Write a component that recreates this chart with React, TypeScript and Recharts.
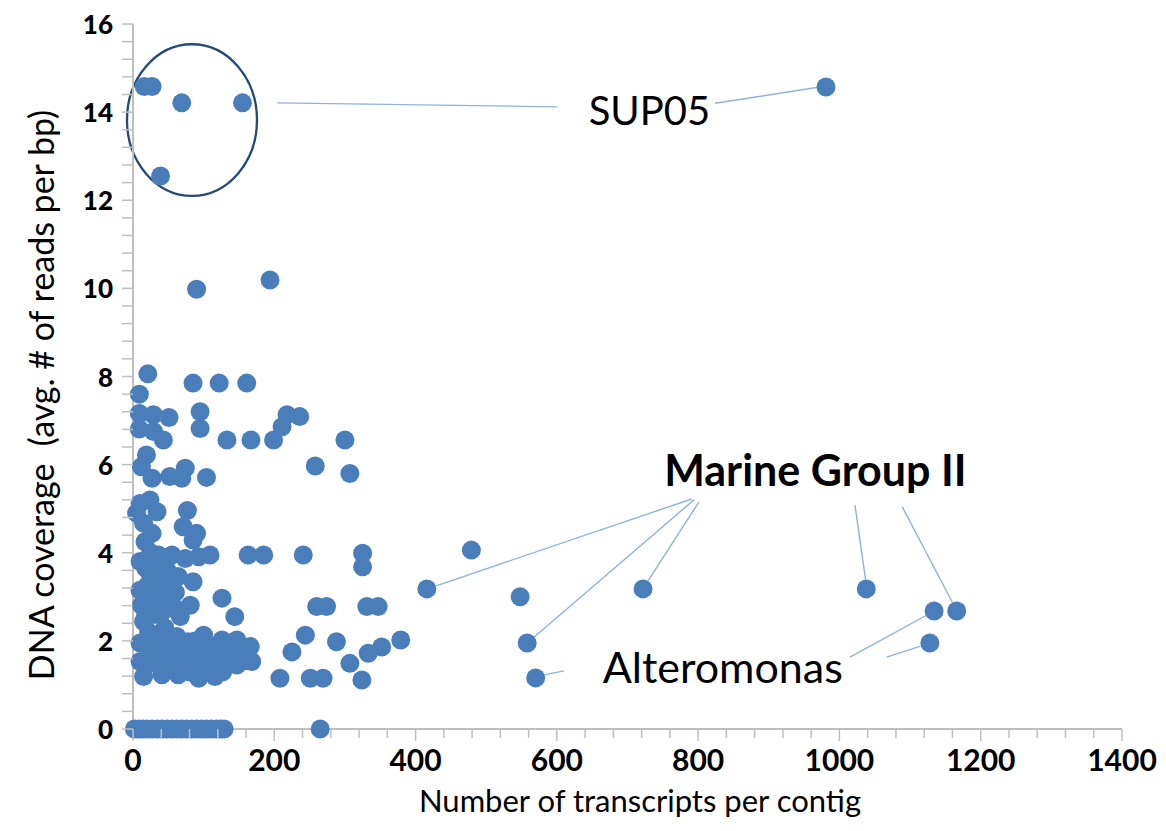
import React from "react";
import {
  ScatterChart,
  Scatter,
  XAxis,
  YAxis,
  ReferenceLine,
  ReferenceDot,
  ReferenceArea,
} from "recharts";

const BLUE = "#4A7EBB";
const LEADER = "#8FB2DC";
const AXIS = "#BFBFBF";
const FONT = "Lato, 'Open Sans', sans-serif";

// contigs highlighted inside the ellipse (plus the far SUP05 outlier)
const sup05X = [16, 27, 69, 155, 39, 981];
const sup05Y = [14.58, 14.58, 14.21, 14.21, 12.55, 14.57];

const marineX = [416, 558, 722, 1038, 1166];
const marineY = [3.18, 1.95, 3.18, 3.18, 2.68];

const alteroX = [570, 1134, 1128];
const alteroY = [1.16, 2.68, 1.95];

// contigs with no DNA coverage
const zeroX = [2, 8, 14, 20, 27, 34, 41, 48, 55, 62, 69, 76, 83, 90, 97, 104, 111, 118, 124, 129, 265];

const otherX = [
  90, 194, 21, 85, 122, 161, 9, 95, 95, 133, 167, 199, 211, 218, 236, 300, 258, 307,
  9, 29, 51, 9, 29, 43, 19, 12, 27, 52, 74, 69, 104,
  10, 24, 34, 5, 15, 27, 17, 77, 71, 90, 85,
  10, 36, 55, 74, 93, 109, 163, 185, 241, 325, 325, 479,
  85, 24, 48, 64, 10, 34, 12, 43, 60, 81, 67, 126, 144, 15,
  260, 274, 331, 347, 548,
  10, 34, 57, 78, 100, 121, 147, 166, 126, 147, 244, 288, 379, 352,
  10, 31, 55, 74, 95, 116, 147, 168, 147, 225, 333, 307,
  15, 41, 64, 93, 116, 208, 251, 269, 324,
  20, 30, 45, 22, 50, 40, 25, 62, 70, 85, 105, 112, 130, 132, 155, 160,
  40, 25, 55, 80, 105, 127, 18, 35, 60, 28, 45, 18, 100, 88, 135,
];
const otherY = [
  9.98, 10.19, 8.06, 7.85, 7.85, 7.85, 7.6, 7.2, 6.82, 6.56, 6.56, 6.56, 6.86, 7.13, 7.09, 6.56, 5.97, 5.8,
  7.16, 7.13, 7.07, 6.81, 6.75, 6.56, 6.22, 5.95, 5.69, 5.73, 5.92, 5.69, 5.71,
  5.12, 5.2, 4.93, 4.9, 4.67, 4.44, 4.25, 4.96, 4.59, 4.44, 4.29,
  3.8, 3.95, 3.95, 3.87, 3.91, 3.95, 3.95, 3.95, 3.95, 3.99, 3.68, 4.06,
  3.34, 3.53, 3.61, 3.46, 3.15, 3.08, 2.81, 2.93, 2.74, 2.81, 2.55, 2.97, 2.55, 2.44,
  2.78, 2.78, 2.78, 2.78, 3.0,
  1.95, 2.02, 1.95, 1.98, 2.13, 1.91, 1.95, 1.87, 2.02, 2.02, 2.13, 1.98, 2.02, 1.86,
  1.53, 1.49, 1.57, 1.45, 1.41, 1.53, 1.49, 1.53, 1.45, 1.75, 1.72, 1.49,
  1.19, 1.23, 1.23, 1.15, 1.19, 1.15, 1.15, 1.15, 1.11,
  3.25, 2.6, 2.3, 2.2, 3.2, 3.8, 4.0, 2.1, 1.8, 1.7, 1.8, 1.6, 1.7, 1.5, 1.7, 1.55,
  1.7, 1.75, 1.35, 1.3, 1.3, 1.3, 3.65, 3.4, 3.1, 2.95, 2.7, 2.6, 1.55, 2.0, 1.9,
];

const xLabels = [0, 200, 400, 600, 800, 1000, 1200, 1400];
const yLabels = [0, 2, 4, 6, 8, 10, 12, 14, 16];

// minor ticks: five per labelled step
const xTicks = Array.from({ length: 36 }, (_, i) => i * 40);
const yTicks = Array.from({ length: 41 }, (_, i) => Math.round(i * 4) / 10);

const toPoints = (xs: number[], ys: number[]) => xs.map((x, i) => ({ x, y: ys[i] }));

const points = [
  ...toPoints(otherX, otherY),
  ...toPoints(zeroX, zeroX.map(() => 0)),
  ...toPoints(sup05X, sup05Y),
  ...toPoints(marineX, marineY),
  ...toPoints(alteroX, alteroY),
];

// leader lines from the labels to the contigs they name
const leaders = [
  [[204, 14.21], [600, 14.12]],
  [[824, 14.2], [968, 14.56]],
  [[791, 5.22], [429, 3.25]],
  [[794, 5.2], [568, 2.09]],
  [[801, 5.15], [729, 3.36]],
  [[1022, 5.08], [1037, 3.39]],
  [[1089, 5.04], [1160, 2.87]],
  [[570, 1.19], [610, 1.32]],
  [[1015, 1.63], [1122, 2.57]],
  [[1067, 1.63], [1115, 1.88]],
];

const XTick = (props: any) => {
  const { x, y, payload } = props;
  const major = xLabels.includes(payload.value);
  return (
    <g>
      <line x1={x} x2={x} y1={y} y2={y + (major ? 12 : 9)} stroke={AXIS} strokeWidth={1.5} />
      {major && (
        <text x={x} y={y + 42} textAnchor="middle" fontFamily={FONT} fontWeight={700} fontSize={30} fill="#000">
          {payload.value}
        </text>
      )}
    </g>
  );
};

const YTick = (props: any) => {
  const { x, y, payload } = props;
  const major = yLabels.some((v) => Math.abs(v - payload.value) < 1e-6);
  return (
    <g>
      <line x1={x - 11} x2={x} y1={y} y2={y} stroke={AXIS} strokeWidth={1.5} />
      {major && (
        <text x={x - 20} y={y} textAnchor="end" dominantBaseline="central" fontFamily={FONT} fontWeight={900} fontSize={26} fill="#000">
          {Math.round(payload.value)}
        </text>
      )}
    </g>
  );
};

const Note = ({ x, y, text, size, bold }: { x: number; y: number; text: string; size: number; bold?: boolean }) => (
  <ReferenceDot
    x={x}
    y={y}
    ifOverflow="visible"
    shape={(p: any) => (
      <text x={p.cx} y={p.cy} fontFamily={FONT} fontSize={size} fontWeight={bold ? 700 : 400} fill="#000">
        {text}
      </text>
    )}
  />
);

export default function App() {
  return (
    <div style={{ position: "absolute", left: 0, top: 0, background: "#fff" }}>
      <ScatterChart width={1166} height={831} margin={{ top: 24, right: 44, bottom: 42, left: 73 }}>
        <XAxis
          type="number"
          dataKey="x"
          domain={[0, 1400]}
          ticks={xTicks}
          interval={0}
          height={60}
          tickSize={0}
          tickMargin={0}
          tickLine={false}
          axisLine={{ stroke: AXIS, strokeWidth: 2 }}
          tick={<XTick />}
          label={{
            content: () => (
              <text x={640} y={812} textAnchor="middle" fontFamily={FONT} fontSize={31} fill="#000">
                Number of transcripts per contig
              </text>
            ),
          }}
        />
        <YAxis
          type="number"
          dataKey="y"
          domain={[0, 16]}
          ticks={yTicks}
          interval={0}
          width={60}
          tickSize={0}
          tickMargin={0}
          tickLine={false}
          axisLine={{ stroke: AXIS, strokeWidth: 2 }}
          tick={<YTick />}
          label={{
            content: () => (
              <text
                x={40}
                y={395}
                transform="rotate(-90, 40, 395)"
                textAnchor="middle"
                dominantBaseline="central"
                fontFamily={FONT}
                fontSize={34}
                fill="#000"
                style={{ whiteSpace: "pre" }}
              >
                {"DNA coverage  (avg. # of reads per bp)"}
              </text>
            ),
          }}
        />
        {leaders.map(([a, b], i) => (
          <ReferenceLine
            key={i}
            segment={[{ x: a[0], y: a[1] }, { x: b[0], y: b[1] }]}
            stroke={LEADER}
            strokeWidth={1.4}
            ifOverflow="visible"
          />
        ))}
        <Scatter
          data={points}
          isAnimationActive={false}
          shape={(p: any) => <circle cx={p.cx} cy={p.cy} r={9.5} fill={BLUE} />}
        />
        <ReferenceArea
          x1={-8.5}
          x2={175.5}
          y1={12.1}
          y2={15.54}
          ifOverflow="visible"
          shape={(p: any) => (
            <ellipse
              cx={p.x + p.width / 2}
              cy={p.y + p.height / 2}
              rx={p.width / 2}
              ry={p.height / 2}
              fill="none"
              stroke="#264A78"
              strokeWidth={2.3}
            />
          )}
        />
        <Note x={645} y={13.71} text="SUP05" size={40} />
        <Note x={752} y={5.52} text="Marine Group II" size={43} bold />
        <Note x={665} y={1.04} text="Alteromonas" size={43} />
      </ScatterChart>
    </div>
  );
}
